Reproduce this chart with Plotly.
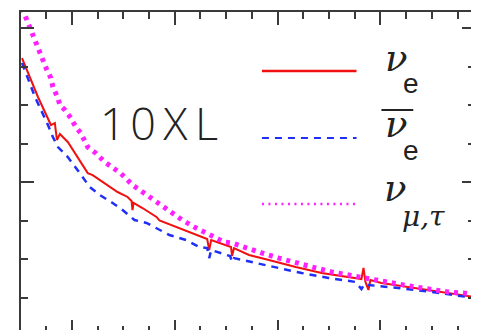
import plotly.graph_objects as go

# ---- data (axis units) ----
nue_x = [5.16, 6.71, 7.97, 8.35, 8.55, 8.84, 9.61, 10.58, 11.55, 12.03, 13.19, 14.45, 15.42,
         15.81, 15.90, 16.00, 16.87, 18.23, 18.52, 20.16, 21.71, 23.16, 23.36, 23.55, 25.48,
         25.58, 25.77, 27.23, 29.16, 31.77, 34.29, 36.90, 38.16, 38.36, 38.55, 38.84, 39.03,
         40.10, 43.39, 46.58, 49.19]
nue_y = [1.805, 1.552, 1.370, 1.383, 1.273, 1.312, 1.260, 1.162, 1.058, 1.045, 0.994, 0.935, 0.903,
         0.877, 0.818, 0.864, 0.831, 0.773, 0.750, 0.708, 0.669, 0.630, 0.558, 0.623, 0.578,
         0.519, 0.571, 0.526, 0.494, 0.448, 0.409, 0.383, 0.370, 0.442, 0.351, 0.299, 0.364,
         0.344, 0.312, 0.279, 0.253]

nuebar_x = [5.16, 6.42, 7.68, 8.16, 8.65, 9.61, 10.77, 11.74, 12.71, 13.97, 14.94, 16.10, 17.26,
            18.23, 19.48, 21.13, 22.39, 23.16, 23.36, 23.55, 25.39, 25.58, 25.77, 27.90, 30.13,
            32.35, 34.97, 37.58, 38.16, 38.45, 38.84, 41.74, 44.94, 49.19]
nuebar_y = [1.773, 1.552, 1.370, 1.292, 1.227, 1.162, 1.058, 0.968, 0.916, 0.864, 0.818, 0.753, 0.734,
            0.701, 0.656, 0.623, 0.578, 0.571, 0.506, 0.558, 0.519, 0.481, 0.506, 0.474, 0.442,
            0.409, 0.377, 0.351, 0.305, 0.338, 0.331, 0.312, 0.286, 0.247]

numu_x = [5.16, 5.74, 6.03, 6.52, 6.90, 7.19, 7.58, 7.97, 8.16, 8.65, 8.84, 9.32, 9.90, 10.39,
          10.87, 11.55, 12.32, 13.19, 13.97, 14.74, 15.90, 16.58, 17.74, 18.52, 19.48, 20.74,
          22.10, 23.36, 24.81, 25.58, 26.94, 28.48, 30.13, 31.77, 33.71, 35.26, 36.90, 40.10,
          43.39, 46.58, 49.19]
numu_y = [2.130, 2.032, 1.974, 1.903, 1.838, 1.779, 1.727, 1.675, 1.617, 1.545, 1.500, 1.468, 1.416,
          1.357, 1.318, 1.227, 1.188, 1.130, 1.091, 1.058, 0.981, 0.948, 0.896, 0.851, 0.805, 0.753,
          0.701, 0.656, 0.610, 0.604, 0.571, 0.539, 0.506, 0.474, 0.442, 0.416, 0.396, 0.351,
          0.318, 0.286, 0.273]

x_major = [10, 20, 30, 40]
y_major = [1, 2]

RED = "#f01010"
BLUE = "#1f2ff5"
MAG = "#ff20ff"
AX = "#3a3a3a"

fig = go.Figure()
fig.add_trace(go.Scatter(x=nue_x, y=nue_y, mode="lines", line=dict(color=RED, width=2)))
fig.add_trace(go.Scatter(x=nuebar_x, y=nuebar_y, mode="lines",
                         line=dict(color=BLUE, width=2.5, dash="7px,6px")))
fig.add_trace(go.Scatter(x=numu_x, y=numu_y, mode="lines",
                         line=dict(color=MAG, width=5, dash="4px,5px")))

axis_common = dict(showgrid=False, zeroline=False, showticklabels=False, showline=True,
                   linecolor=AX, linewidth=2, mirror="ticks", ticks="inside", ticklen=13,
                   tickwidth=1.5, tickcolor=AX)
fig.update_xaxes(range=[5.06, 49.2], tickvals=x_major,
                 minor=dict(dtick=2.5, tick0=0, ticks="inside", ticklen=7, tickwidth=1.5,
                            tickcolor=AX, showgrid=False),
                 **axis_common)
fig.update_yaxes(range=[0.0195, 2.104], tickvals=y_major,
                 minor=dict(dtick=0.25, tick0=0, ticks="inside", ticklen=7, tickwidth=1.5,
                            tickcolor=AX, showgrid=False),
                 **axis_common)

# The page body has an 8px margin; plot area in page pixels: x 21..477, y 12..333
def px2paper(px, py):
    return (px - 21) / 456.0, (333 - py) / 321.0

shapes = []
for (py, col, w, dash) in [(71, RED, 2.5, "solid"), (138, BLUE, 2.2, "7px,6px"),
                           (204, MAG, 2.5, "2px,4.5px")]:
    x0, y0 = px2paper(263, py)
    x1, _ = px2paper(358, py)
    shapes.append(dict(type="line", xref="paper", yref="paper", x0=x0, x1=x1, y0=y0, y1=y0,
                       line=dict(color=col, width=w, dash=dash)))
bx0, by = px2paper(383, 110)
bx1, _ = px2paper(415, 110)
shapes.append(dict(type="line", xref="paper", yref="paper", x0=bx0, x1=bx1, y0=by, y1=by,
                   line=dict(color="#222", width=2)))
fig.update_layout(shapes=shapes)

SERIF = "DejaVu Serif"
SANS = "Liberation Sans"
ann = []
def add_text(txt, px, py, size, family, italic=False, weight=None):
    x, y = px2paper(px, py)
    f = dict(size=size, family=family, color="#222")
    if weight:
        f["weight"] = weight
    ann.append(dict(text=(f"<i>{txt}</i>" if italic else txt), x=x, y=y, xref="paper",
                    yref="paper", xanchor="center", yanchor="middle", showarrow=False,
                    font=f))

add_text("ν", 398, 58, 37, SERIF, True)
add_text("e", 413, 83, 28, SANS)
add_text("ν", 398, 124, 37, SERIF, True)
add_text("e", 413, 150, 28, SANS)
add_text("ν", 397, 189, 37, SERIF, True)
add_text("μ,τ", 425, 216, 28, SERIF, True)
add_text("1\u200a0\u2009X\u2009L", 160, 122, 45, "Open Sans", weight=300)
fig.update_layout(annotations=ann)

fig.update_layout(width=471, height=327, margin=dict(l=13, r=2, t=4, b=2),
                  paper_bgcolor="white", plot_bgcolor="white", showlegend=False)
fig.write_html("out.html")
